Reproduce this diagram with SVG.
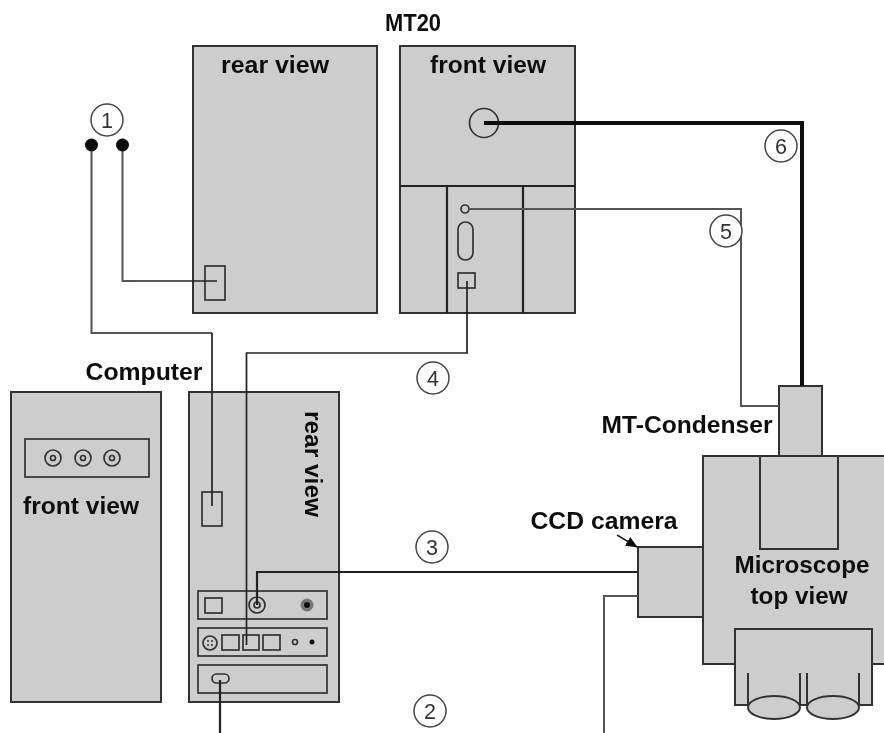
<svg xmlns="http://www.w3.org/2000/svg" width="884" height="733" viewBox="0 0 884 733">
<style>
text{font-family:"Liberation Sans",Arial,sans-serif;fill:#111}
.l{font-weight:bold;font-size:23.500px;text-anchor:middle}
.n{font-size:21.500px;text-anchor:middle;fill:#333}
.b{fill:#cdcdcd;stroke:#333;stroke-width:2}
.t{fill:#cdcdcd;stroke:#333;stroke-width:1.700}
.w{fill:none;stroke:#222;stroke-width:1.700}
.k{fill:none;stroke:#222;stroke-width:2.200}
.g{fill:none;stroke:#555;stroke-width:2}
.c{fill:#fff;stroke:#444;stroke-width:1.500}
</style>
<defs>
<filter id="soft" filterUnits="userSpaceOnUse" x="0" y="0" width="884" height="733"><feGaussianBlur stdDeviation="0.45"/></filter>
<marker id="ah" markerUnits="userSpaceOnUse" markerWidth="12" markerHeight="10" refX="11" refY="5" orient="auto"><path d="M0 0L12 5L0 10Z" fill="#111"/></marker>
</defs>
<g filter="url(#soft)">
<g id="mt20-rear"><rect class="b" x="193" y="46" width="184" height="267"/><rect class="t" x="205" y="266" width="20" height="34"/><text class="l" x="275" y="73" textLength="108" lengthAdjust="spacingAndGlyphs">rear view</text></g>
<g id="mt20-front"><rect class="b" x="400" y="46" width="175" height="267"/><path class="k" d="M400 186H575M447 186V313M523 186V313"/><circle class="t" cx="484" cy="123" r="14.500"/><circle class="t" cx="465" cy="209" r="4"/><rect class="t" x="458" y="222" width="15" height="38" rx="7.500"/><rect class="t" x="458" y="273" width="17" height="15"/><text class="l" x="488" y="73" textLength="116" lengthAdjust="spacingAndGlyphs">front view</text></g>
<text class="l" x="413" y="31" id="mt20-title" textLength="56" lengthAdjust="spacingAndGlyphs">MT20</text>
<g id="computer-front"><rect class="b" x="11" y="392" width="150" height="310"/><rect class="t" x="25" y="439" width="124" height="38"/>
<circle class="t" cx="53" cy="458" r="8"/><circle class="t" cx="53" cy="458" r="2.500"/><circle class="t" cx="83" cy="458" r="8"/><circle class="t" cx="83" cy="458" r="2.500"/><circle class="t" cx="112" cy="458" r="8"/><circle class="t" cx="112" cy="458" r="2.500"/>
<text class="l" x="81" y="514" textLength="116" lengthAdjust="spacingAndGlyphs">front view</text></g>
<text class="l" x="144" y="380" id="computer-title" textLength="117" lengthAdjust="spacingAndGlyphs">Computer</text>
<g id="computer-rear"><rect class="b" x="189" y="392" width="150" height="310"/><rect class="t" x="202" y="492" width="20" height="34"/>
<rect class="t" x="198" y="591" width="129" height="28"/><rect class="t" x="205" y="598" width="17" height="15"/><circle class="t" cx="257" cy="605" r="8"/><circle class="t" cx="257" cy="605" r="3"/><circle cx="307" cy="605" r="6.500" fill="#777"/><circle cx="307" cy="605" r="3" fill="#111"/>
<rect class="t" x="198" y="628" width="129" height="28"/><circle class="t" cx="210" cy="643" r="7"/><circle cx="208" cy="641" r="1" fill="#333"/><circle cx="212" cy="641" r="1" fill="#333"/><circle cx="208" cy="645" r="1" fill="#333"/><circle cx="212" cy="645" r="1" fill="#333"/><rect class="t" x="222" y="635" width="17" height="15"/><rect class="t" x="243" y="635" width="16" height="15"/><rect class="t" x="263" y="635" width="17" height="15"/><circle class="t" cx="295" cy="642" r="2.500"/><circle cx="312" cy="642" r="2.500" fill="#111"/>
<rect class="t" x="198" y="665" width="129" height="28"/><rect class="t" x="212" y="674" width="17" height="9" rx="4.500"/>
<text class="l" transform="translate(305 464) rotate(90)" textLength="106" lengthAdjust="spacingAndGlyphs">rear view</text></g>
<g id="microscope"><rect class="b" x="703" y="456" width="190" height="208"/><rect class="b" x="779" y="386" width="43" height="70"/><rect class="b" x="760" y="456" width="78" height="93"/><rect class="b" x="638" y="547" width="65" height="70"/><rect class="b" x="735" y="629" width="137" height="76"/>
<path class="g" style="stroke:#333" d="M748 673V705M800 673V705M807 673V705M859 673V705"/><ellipse class="b" cx="774" cy="707.500" rx="26" ry="11.500"/><ellipse class="b" cx="833" cy="707.500" rx="26" ry="11.500"/>
<text class="l" x="802" y="573" textLength="135" lengthAdjust="spacingAndGlyphs">Microscope</text><text class="l" x="799" y="604" textLength="97" lengthAdjust="spacingAndGlyphs">top view</text></g>
<text class="l" x="687" y="433" id="condenser-label" textLength="171" lengthAdjust="spacingAndGlyphs">MT-Condenser</text>
<text class="l" x="604" y="529" id="ccd-label" textLength="147" lengthAdjust="spacingAndGlyphs">CCD camera</text>
<g id="connectors">
<path class="g" d="M91.500 145V333H212"/><path class="w" d="M212 333V506"/>
<path class="g" d="M122.500 145V281H135"/><path class="w" d="M135 281H217"/>
<circle cx="91.500" cy="145" r="6.500" fill="#111"/><circle cx="122.500" cy="145" r="6.500" fill="#111"/>
<path class="w" d="M246.500 645V353H467V281"/>
<path class="k" d="M257 605V572H638"/>
<path class="g" d="M469 209H741V406H779"/>
<path fill="none" stroke="#111" stroke-width="4" d="M484 123H802V386"/>
<path class="g" d="M638 596H604V733"/>
<path class="k" d="M220 680V733"/>
<path fill="none" stroke="#222" stroke-width="1.500" marker-end="url(#ah)" d="M617 535L637 547"/>
</g>
<g id="badges">
<circle class="c" cx="107" cy="120" r="16"/><text class="n" x="107" y="128">1</text>
<circle class="c" cx="781" cy="146" r="16"/><text class="n" x="781" y="154">6</text>
<circle class="c" cx="726" cy="231" r="16"/><text class="n" x="726" y="239">5</text>
<circle class="c" cx="433" cy="378" r="16"/><text class="n" x="433" y="386">4</text>
<circle class="c" cx="432" cy="547" r="16"/><text class="n" x="432" y="555">3</text>
<circle class="c" cx="430" cy="711" r="16"/><text class="n" x="430" y="719">2</text>
</g>
</g>
</svg>
